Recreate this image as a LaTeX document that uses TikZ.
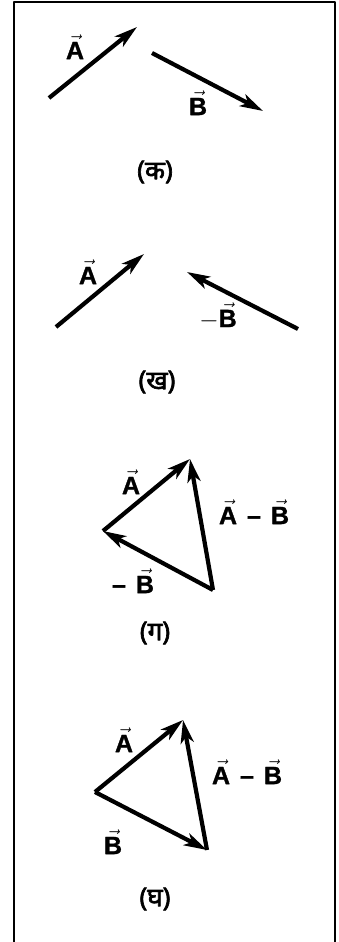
\documentclass[tikz,border=0pt]{standalone}
\usepackage{fontspec}
\setmainfont{Liberation Sans}[BoldFeatures={FakeBold=1.2}]
\newfontfamily\hindifont[Script=Devanagari,AutoFakeBold=2.5]{Noto Sans}
\usetikzlibrary{arrows.meta}
\newcommand{\vb}[1]{\ensuremath{\vec{\textbf{#1}}}}
\newcommand{\gap}{\hspace{10pt}}
\tikzset{
  vecline/.style={line width=4.2pt, -{Stealth[length=23pt,width=13pt,inset=6pt]}},
  lbl/.style={font=\bfseries\fontsize{25}{28}\selectfont, inner sep=0pt},
  capt/.style={font=\hindifont\bfseries\fontsize{26}{30}\selectfont, inner sep=0pt}
}
\begin{document}
\begin{tikzpicture}[x=1pt,y=-1pt,line join=round]
\useasboundingbox (0,0) rectangle (339,942);
% frame
\draw[line width=2pt] (14,942) -- (14,2) -- (335,2) -- (335,942);

% (ka)
\coordinate (a1s) at (49,98);  \coordinate (a1e) at (137,27);
\coordinate (b1s) at (152,53); \coordinate (b1e) at (263,111);
\draw[vecline] (a1s) -- (a1e);
\draw[vecline] (b1s) -- (b1e);
\node[lbl] (la1) at (75,47) {\vb{A}};
\node[lbl] (lb1) at (198,103) {\vb{B}};
\node[capt] (c1) at (155,172) {(क)};

% (kha)
\coordinate (a2s) at (56,327);  \coordinate (a2e) at (144,254);
\coordinate (b2s) at (298,329); \coordinate (b2e) at (187,272);
\draw[vecline] (a2s) -- (a2e);
\draw[vecline] (b2s) -- (b2e);
\node[lbl] (la2) at (88,272) {\vb{A}};
\node[lbl] (lb2) at (218,316) {$-$\vb{B}};
\node[capt] (c2) at (157,382) {(ख)};

% (ga)
\coordinate (gL) at (103,531); \coordinate (gT) at (190,459); \coordinate (gR) at (213,590);
\draw[vecline] (gL) -- (gT);
\draw[vecline] (gR) -- (gL);
\draw[vecline] (gR) -- (gT);
\node[lbl] (la3) at (131,482) {\vb{A}};
\node[lbl] (ld3) at (254,512) {\vb{A}\gap–\gap\vb{B}};
\node[lbl] (lb3) at (133,581) {–\gap\vb{B}};
\node[capt] (c3) at (155,633) {(ग)};

% (gha)
\coordinate (hL) at (95,792); \coordinate (hT) at (183,720); \coordinate (hR) at (207,850);
\draw[vecline] (hL) -- (hT);
\draw[vecline] (hL) -- (hR);
\draw[vecline] (hR) -- (hT);
\node[lbl] (la4) at (124,740) {\vb{A}};
\node[lbl] (ld4) at (247,772) {\vb{A}\gap–\gap\vb{B}};
\node[lbl] (lb4) at (113,842) {\vb{B}};
\node[capt] (c4) at (155,899) {(घ)};
\end{tikzpicture}
\end{document}
